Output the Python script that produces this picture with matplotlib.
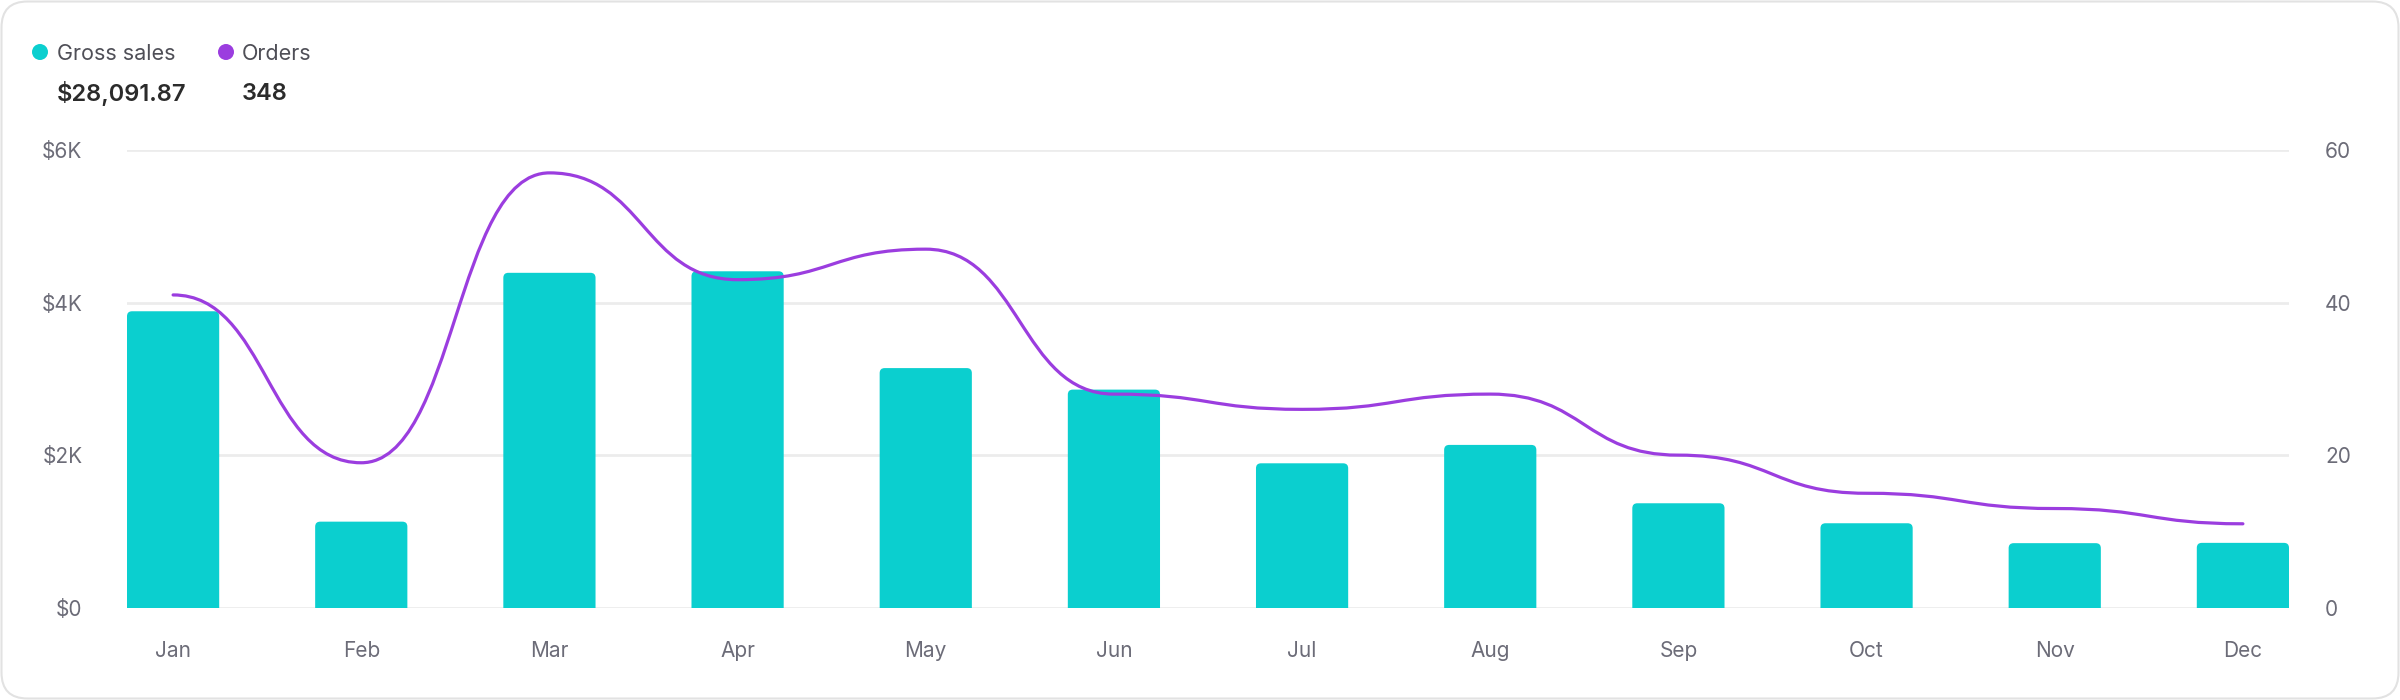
import matplotlib
matplotlib.use("Agg")
import matplotlib.pyplot as plt
from matplotlib.patches import FancyBboxPatch, PathPatch, Ellipse
from matplotlib.path import Path
from matplotlib.ticker import FixedLocator, FuncFormatter

plt.rcParams['font.family'] = ['Inter', 'DejaVu Sans']

# ---- data ----
months = ["Jan", "Feb", "Mar", "Apr", "May", "Jun", "Jul", "Aug", "Sep", "Oct", "Nov", "Dec"]
gross_sales = [3886, 1128, 4390, 4410, 3141, 2859, 1893, 2134, 1369, 1107, 846, 850]
orders = [41, 19, 57, 43, 47, 28, 26, 28, 20, 15, 13, 11]
left_ticks = [0, 2000, 4000, 6000]
left_labels = ["$0", "$2K", "$4K", "$6K"]
right_ticks = [0, 20, 40, 60]
total_sales_label = "$28,091.87"
total_orders_label = "348"

TEAL = "#0bcfcf"
PURPLE = "#9b3ddf"
GRID = "#ececec"
TICK_C = "#6c6c78"

W, H = 2400, 700
fig = plt.figure(figsize=(W / 100, H / 100), dpi=100)

# card border
card = FancyBboxPatch((1.5, 1.5), W - 3, H - 3, boxstyle="round,pad=0,rounding_size=26",
                      transform=None, facecolor="none", edgecolor="#e2e2e2", linewidth=1.5,
                      zorder=-10)
fig.patches.append(card)

ax_l, ax_r, ax_t, ax_b = 127, 2289, 150, 607.7
ax = fig.add_axes([ax_l / W, 1 - ax_b / H, (ax_r - ax_l) / W, (ax_b - ax_t) / H])
ax.patch.set_alpha(0)

bw = 0.49
xmin, xmax = -bw / 2, len(months) - 1 + bw / 2
ax.set_xlim(xmin, xmax)
ax.set_ylim(0, 6000)

# rounded-top bars
xs = list(range(len(months)))
bars = ax.bar(xs, gross_sales, width=bw, color=TEAL, zorder=2)
x_per_px = (xmax - xmin) / (ax_r - ax_l)
y_per_px = 6000 / (ax_b - ax_t)
r_px = 5
for b in bars:
    x0, w, h = b.get_x(), b.get_width(), b.get_height()
    b.set_visible(False)
    p = FancyBboxPatch((x0, -400), w, h + 400,
                       boxstyle=f"round,pad=0,rounding_size={r_px * x_per_px}",
                       mutation_aspect=y_per_px / x_per_px,
                       facecolor=TEAL, edgecolor="none", zorder=2, clip_on=True)
    ax.add_patch(p)

ax.yaxis.set_major_locator(FixedLocator(left_ticks))
ax.set_yticklabels(left_labels)
ax.grid(axis="y", color=GRID, linewidth=2, zorder=0)
ax.set_axisbelow(True)
ax.set_xticks(xs)
ax.set_xticklabels(months)
ax.tick_params(axis="x", length=0, pad=24, labelsize=15, labelcolor=TICK_C)
ax.tick_params(axis="y", length=0, pad=32, labelsize=15, labelcolor=TICK_C)
for s in ax.spines.values():
    s.set_visible(False)

ax2 = ax.twinx()
ax2.set_ylim(0, 60)
ax2.set_xlim(xmin, xmax)
ax2.yaxis.set_major_locator(FixedLocator(right_ticks))
ax2.yaxis.set_major_formatter(FuncFormatter(lambda v, p: f"{int(v)}"))
ax2.tick_params(axis="y", length=0, pad=26, labelsize=15, labelcolor=TICK_C)
for s in ax2.spines.values():
    s.set_visible(False)

# bump-x curve (horizontal tangents at every point)
verts = [(xs[0], orders[0])]
codes = [Path.MOVETO]
for i in range(len(orders) - 1):
    xm = (xs[i] + xs[i + 1]) / 2
    verts += [(xm, orders[i]), (xm, orders[i + 1]), (xs[i + 1], orders[i + 1])]
    codes += [Path.CURVE4] * 3
ax2.add_patch(PathPatch(Path(verts, codes), fill=False, edgecolor=PURPLE,
                        linewidth=2.3, capstyle="round", joinstyle="round", zorder=3))

# legend header
def circ(cx, cy, d, color):
    e = Ellipse((cx / W, 1 - cy / H), d / W, d / H, transform=fig.transFigure,
                facecolor=color, edgecolor="none")
    fig.patches.append(e)

circ(40, 52, 16, TEAL)
circ(226, 52, 16, PURPLE)
fig.text(57 / W, 1 - 52 / H, "Gross sales", fontsize=15.5, color="#4f4f57", va="center_baseline", ha="left")
fig.text(242 / W, 1 - 52 / H, "Orders", fontsize=15.5, color="#4f4f57", va="center_baseline", ha="left")
fig.text(57 / W, 1 - 91 / H, total_sales_label, fontsize=17, color="#2b2b2b", weight="semibold", va="center_baseline", ha="left")
fig.text(242 / W, 1 - 91 / H, total_orders_label, fontsize=17, color="#2b2b2b", weight="semibold", va="center_baseline", ha="left")

fig.savefig("out.png", dpi=100)
